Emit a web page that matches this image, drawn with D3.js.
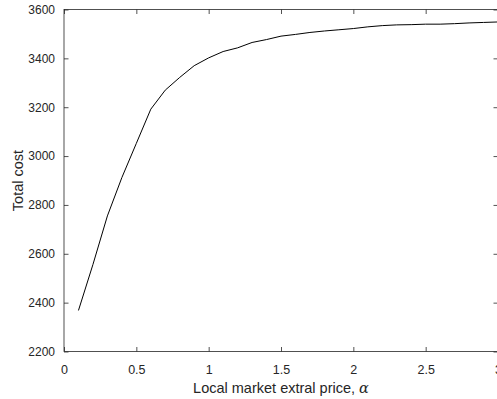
<!DOCTYPE html>
<html>
<head>
    <meta charset="utf-8">
    <title>Total cost vs local market extral price</title>
    <script type="text/javascript" src="https://d3js.org/d3.v7.min.js"></script>
    <style>
        body { margin: 0; background: #fff; }
        text { font-family: "Liberation Sans", Arial, sans-serif; fill: #262626; }
    </style>
</head>
<body>
    <div id="div-svg"></div>

    <script type="text/javascript">
        // values
        let alphaValues = [0.1, 0.2, 0.3, 0.4, 0.5, 0.6, 0.7, 0.8, 0.9, 1.0,
                           1.1, 1.2, 1.3, 1.4, 1.5, 1.6, 1.7, 1.8, 1.9, 2.0,
                           2.1, 2.2, 2.3, 2.4, 2.5, 2.6, 2.7, 2.8, 2.9, 3.0];
        let totalCost = [2368, 2556, 2755, 2912, 3052, 3192, 3270, 3322, 3370, 3402,
                         3428, 3443, 3465, 3477, 3491, 3498, 3506, 3512, 3517, 3522,
                         3529, 3534, 3537, 3538, 3540, 3540, 3542, 3545, 3547, 3549];
        let xTicks = [0, 0.5, 1, 1.5, 2, 2.5, 3];
        let yTicks = [2200, 2400, 2600, 2800, 3000, 3200, 3400, 3600];

        let width = 497;
        let height = 399;
        let plotLeft = 64, plotRight = 498, plotTop = 9.5, plotBottom = 351.5;

        let svg = d3.select("#div-svg")
            .append("svg")
            .attr("id", "svg-1")
            .attr("width", width)
            .attr("height", height);

        let xScale = d3.scaleLinear().domain([0, 3]).range([plotLeft, plotRight]);
        let yScale = d3.scaleLinear().domain([2200, 3600]).range([plotBottom, plotTop]);

        // bottom axis with labels, ticks pointing inward
        let xAxis = d3.axisBottom(xScale).tickValues(xTicks).tickSizeInner(-4.5).tickSizeOuter(0)
            .tickPadding(14).tickFormat(d3.format(""));
        let gx = svg.append("g")
            .attr("transform", "translate(0," + plotBottom + ")")
            .style("font-size", "12.5px")
            .call(xAxis);

        let yAxis = d3.axisLeft(yScale).tickValues(yTicks).tickSizeInner(-4.5).tickSizeOuter(0)
            .tickPadding(9).tickFormat(d3.format(""));
        let gy = svg.append("g")
            .attr("transform", "translate(" + plotLeft + ",0)")
            .style("font-size", "12px")
            .call(yAxis);

        // top and right axes, ticks only
        let gxt = svg.append("g")
            .attr("transform", "translate(0," + plotTop + ")")
            .call(d3.axisTop(xScale).tickValues(xTicks).tickSizeInner(-4.5).tickSizeOuter(0).tickFormat(""));
        let gyr = svg.append("g")
            .attr("transform", "translate(" + plotRight + ",0)")
            .call(d3.axisRight(yScale).tickValues(yTicks).tickSizeInner(-4.5).tickSizeOuter(0).tickFormat(""));

        [gx, gy, gxt, gyr].forEach(function (g) {
            g.select(".domain").remove();
            g.selectAll("line").attr("stroke", "#262626").attr("stroke-width", 0.8);
            g.selectAll("text").attr("fill", "#262626").style("font-family", "'Liberation Sans', Arial, sans-serif");
        });

        // box
        svg.append("rect")
            .attr("x", plotLeft)
            .attr("y", plotTop)
            .attr("width", plotRight - plotLeft)
            .attr("height", plotBottom - plotTop)
            .attr("fill", "none")
            .attr("stroke", "#262626")
            .attr("stroke-width", 0.8);

        // the curve
        let line = d3.line()
            .x(function (d, i) { return xScale(alphaValues[i]); })
            .y(function (d) { return yScale(d); });

        svg.append("path")
            .datum(totalCost)
            .attr("d", line)
            .attr("fill", "none")
            .attr("stroke", "#000")
            .attr("stroke-width", 1);

        // axis labels
        let xLabel = svg.append("text")
            .attr("x", (plotLeft + plotRight) / 2)
            .attr("y", 393)
            .attr("font-size", 14.5)
            .style("text-anchor", "middle")
            .text("Local market extral price, ");
        xLabel.append("tspan")
            .style("font-family", "'DejaVu Serif', 'Liberation Serif', serif")
            .style("font-style", "italic")
            .text("α");

        svg.append("text")
            .attr("transform", "rotate(-90)")
            .attr("x", -(plotTop + plotBottom) / 2)
            .attr("y", 23)
            .attr("font-size", 14.5)
            .style("text-anchor", "middle")
            .text("Total cost");
    </script>
</body>
</html>
